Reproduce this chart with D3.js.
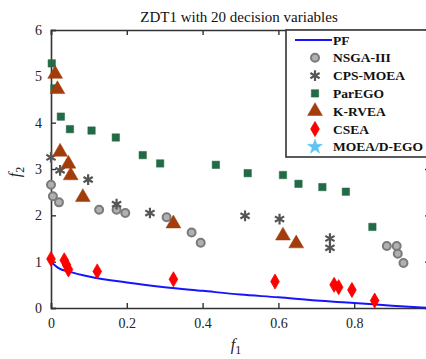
<!DOCTYPE html>
<html>
<head>
<meta charset="utf-8">
<script src="https://cdn.jsdelivr.net/npm/d3@7"></script>
<style>
	body { margin: 0; background: #fff; }
	text { font-family: "Liberation Serif", "DejaVu Serif", serif; }
</style>
</head>
<body>
<div id="chart"></div>
<script>
//chart values

var pfF1 = [0, 0.02, 0.05, 0.1, 0.2, 0.3, 0.4, 0.5, 0.6, 0.7, 0.8, 0.9, 1.0];
var pfF2 = [1.0, 0.86, 0.78, 0.68, 0.55, 0.45, 0.37, 0.29, 0.23, 0.16, 0.11, 0.05, 0.0];

var nsgaF1 = [0.0, 0.005, 0.021, 0.127, 0.173, 0.196, 0.305, 0.371, 0.395, 0.886, 0.912, 0.915, 0.93];
var nsgaF2 = [2.66, 2.41, 2.28, 2.12, 2.12, 2.05, 1.96, 1.63, 1.41, 1.34, 1.34, 1.17, 0.97];

var cpsF1 = [0.0, 0.024, 0.098, 0.173, 0.261, 0.512, 0.603, 0.736, 0.736];
var cpsF2 = [3.25, 2.97, 2.77, 2.24, 2.05, 1.99, 1.92, 1.50, 1.30];

var paregoF1 = [0.002, 0.009, 0.026, 0.05, 0.107, 0.171, 0.242, 0.288, 0.435, 0.519, 0.612, 0.653, 0.716, 0.778, 0.848];
var paregoF2 = [5.28, 4.74, 4.13, 3.86, 3.83, 3.68, 3.30, 3.12, 3.09, 2.91, 2.87, 2.68, 2.61, 2.51, 1.75];

var krveaF1 = [0.011, 0.017, 0.024, 0.046, 0.052, 0.084, 0.323, 0.612, 0.647];
var krveaF2 = [5.05, 4.72, 3.37, 3.11, 2.86, 2.39, 1.82, 1.56, 1.39];

var cseaF1 = [0.0, 0.035, 0.041, 0.046, 0.122, 0.323, 0.591, 0.747, 0.759, 0.794, 0.854];
var cseaF2 = [1.06, 1.03, 0.93, 0.83, 0.79, 0.62, 0.57, 0.50, 0.45, 0.39, 0.16];

var moeadF1 = [];
var moeadF2 = [];

var xTicks = [0, 0.2, 0.4, 0.6, 0.8];
var yTicks = [0, 1, 2, 3, 4, 5, 6];
var chartTitle = "ZDT1 with 20 decision variables";

var W = 426, H = 359;
var margin = { top: 30, left: 51 };
var plotW = 379, plotH = 278;

var svg = d3.select('#chart').append('svg')
	.attr('width', W)
	.attr('height', H);

var x = d3.scaleLinear().domain([0, 1]).range([margin.left, margin.left + plotW]);
var y = d3.scaleLinear().domain([0, 6]).range([margin.top + plotH, margin.top]);

function zip(a, b) { return a.map(function(d, i) { return [d, b[i]]; }); }

//title
svg.append('text')
	.attr('x', 239).attr('y', 22)
	.attr('text-anchor', 'middle')
	.style('font-size', '15px')
	.attr('fill', '#111')
	.text(chartTitle);

//axes
var axisColor = '#333';
var gBottom = svg.append('g')
	.attr('transform', 'translate(0,' + (margin.top + plotH) + ')')
	.call(d3.axisBottom(x).tickValues(xTicks).tickSize(-5).tickPadding(10)
		.tickFormat(function(d) { return d === 0 ? '0' : d3.format('.1f')(d); }));
var gTop = svg.append('g')
	.attr('transform', 'translate(0,' + margin.top + ')')
	.call(d3.axisTop(x).tickValues(xTicks).tickSize(-5).tickFormat(''));
var gLeft = svg.append('g')
	.attr('transform', 'translate(' + margin.left + ',0)')
	.call(d3.axisLeft(y).tickValues(yTicks).tickSize(-5).tickPadding(9).tickFormat(d3.format('d')));
var gRight = svg.append('g')
	.attr('transform', 'translate(' + (margin.left + plotW) + ',0)')
	.call(d3.axisRight(y).tickValues(yTicks).tickSize(-5).tickFormat(''));

[gBottom, gTop, gLeft, gRight].forEach(function(g) {
	g.select('.domain').attr('stroke', axisColor).attr('stroke-width', 1.6);
	g.selectAll('.tick line').attr('stroke', axisColor).attr('stroke-width', 1.4);
	g.selectAll('.tick text')
		.attr('fill', '#222')
		.style('font-family', '"Liberation Serif", serif')
		.style('font-size', '14px');
});

//axis labels
svg.append('text')
	.attr('x', 236).attr('y', 350)
	.attr('text-anchor', 'middle')
	.style('font-size', '16px').style('font-style', 'italic')
	.attr('fill', '#222')
	.html('f<tspan dy="4" style="font-size:12px;font-style:normal">1</tspan>');
svg.append('text')
	.attr('transform', 'translate(20,172) rotate(-90)')
	.attr('text-anchor', 'middle')
	.style('font-size', '16px').style('font-style', 'italic')
	.attr('fill', '#222')
	.html('f<tspan dy="4" style="font-size:12px;font-style:normal">2</tspan>');

var plot = svg.append('g');

//pareto front
plot.append('path')
	.datum(zip(pfF1, pfF2))
	.attr('fill', 'none')
	.attr('stroke', '#1515ff')
	.attr('stroke-width', 2)
	.attr('d', d3.line().curve(d3.curveMonotoneX).x(function(d) { return x(d[0]); }).y(function(d) { return y(d[1]); }));

//marker helpers
var sym = {
	circle: d3.symbol().type(d3.symbolCircle).size(50),
	star: d3.symbol().type(d3.symbolAsterisk).size(80),
	square: d3.symbol().type(d3.symbolSquare).size(55),
	triangle: d3.symbol().type(d3.symbolTriangle).size(95),
	diamond: d3.symbol().type(d3.symbolDiamond).size(65),
	star5: d3.symbol().type(d3.symbolStar).size(70)
};

var series = [
	{ label: 'NSGA-III', f1: nsgaF1, f2: nsgaF2, shape: 'circle', fill: '#b0b0b0', stroke: '#7a7a7a', sw: 2 },
	{ label: 'CPS-MOEA', f1: cpsF1, f2: cpsF2, shape: 'star', fill: 'none', stroke: '#555', sw: 2.2 },
	{ label: 'ParEGO', f1: paregoF1, f2: paregoF2, shape: 'square', fill: '#236b47', stroke: '#236b47', sw: 0.5 },
	{ label: 'K-RVEA', f1: krveaF1, f2: krveaF2, shape: 'triangle', fill: '#a33c0b', stroke: '#a33c0b', sw: 0.5 },
	{ label: 'CSEA', f1: cseaF1, f2: cseaF2, shape: 'diamond', fill: '#ff0000', stroke: '#ff0000', sw: 0.8 },
	{ label: 'MOEA/D-EGO', f1: moeadF1, f2: moeadF2, shape: 'star5', fill: '#5ec4f2', stroke: '#5ec4f2', sw: 0.5 }
];

series.forEach(function(s) {
	plot.append('g').selectAll('path')
		.data(zip(s.f1, s.f2))
		.join('path')
		.attr('transform', function(d) { return 'translate(' + x(d[0]) + ',' + y(d[1]) + ')'; })
		.attr('d', sym[s.shape])
		.attr('fill', s.fill)
		.attr('stroke', s.stroke)
		.attr('stroke-width', s.sw);
});

//legend
var lg = svg.append('g').attr('transform', 'translate(286,30)');
lg.append('rect')
	.attr('width', 160).attr('height', 127)
	.attr('fill', '#fff')
	.attr('stroke', axisColor).attr('stroke-width', 1.6);

var rowY = function(i) { return 10 + i * 17.8; };
lg.append('line')
	.attr('x1', 9).attr('x2', 46)
	.attr('y1', rowY(0)).attr('y2', rowY(0))
	.attr('stroke', '#1515ff').attr('stroke-width', 2);
lg.append('text')
	.attr('x', 47).attr('y', rowY(0) + 4.5)
	.style('font-size', '13.5px').style('font-weight', 'bold')
	.attr('fill', '#111')
	.text('PF');

series.forEach(function(s, i) {
	var yy = rowY(i + 1);
	lg.append('path')
		.attr('transform', 'translate(29,' + yy + ')')
		.attr('d', sym[s.shape])
		.attr('fill', s.fill)
		.attr('stroke', s.stroke)
		.attr('stroke-width', s.sw);
	lg.append('text')
		.attr('x', 47).attr('y', yy + 4.5)
		.style('font-size', '13.5px').style('font-weight', 'bold')
		.attr('fill', '#111')
		.text(s.label);
});
</script>
</body>
</html>
